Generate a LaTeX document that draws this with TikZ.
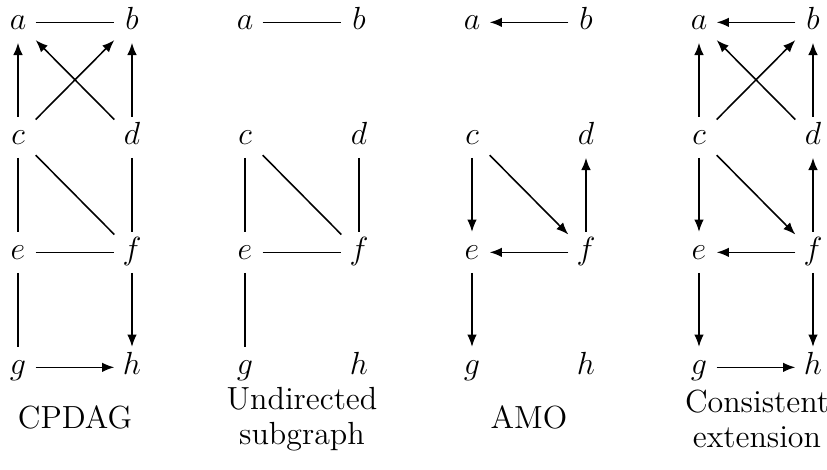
\documentclass[tikz,border=0pt]{standalone}
\usetikzlibrary{arrows.meta}
\begin{document}
\begin{tikzpicture}[x=0.45pt,y=-0.45pt,
  vtx/.style={anchor=base,inner xsep=0pt,inner ysep=0pt,minimum width=15.5pt,
    text height=12pt,text depth=6pt,font=\fontsize{14}{16}\selectfont},
  captxt/.style={align=center,font=\fontsize{14.4}{16}\selectfont},
  und/.style={line width=0.7pt},
  dir/.style={line width=0.7pt,-{Latex[length=5.5pt,width=4.3pt]}}]
\useasboundingbox (0,0) rectangle (827,470);
\foreach \g/\x in {1/18,2/245,3/472,4/699}{
  \node[vtx] (g\g a) at (\x,29) {$a$};
  \node[vtx] (g\g b) at (\x+114,29) {$b$};
  \node[vtx] (g\g c) at (\x,144) {$c$};
  \node[vtx] (g\g d) at (\x+114,144) {$d$};
  \node[vtx] (g\g e) at (\x,259) {$e$};
  \node[vtx] (g\g f) at (\x+114,259) {$f$};
  \node[vtx] (g\g g) at (\x,374) {$g$};
  \node[vtx] (g\g h) at (\x+114,374) {$h$};
}
% CPDAG
\draw[und] (g1a) -- (g1b);
\draw[dir] (g1c) -- (g1a);
\draw[dir] (g1d) -- (g1b);
\draw[dir] (g1c) -- (g1b);
\draw[dir] (g1d) -- (g1a);
\draw[und] (g1c) -- (g1e);
\draw[und] (g1c) -- (g1f);
\draw[und] (g1d) -- (g1f);
\draw[und] (g1e) -- (g1f);
\draw[und] (g1e) -- (g1g);
\draw[dir] (g1f) -- (g1h);
\draw[dir] (g1g) -- (g1h);
% Undirected subgraph
\draw[und] (g2a) -- (g2b);
\draw[und] (g2c) -- (g2e);
\draw[und] (g2c) -- (g2f);
\draw[und] (g2d) -- (g2f);
\draw[und] (g2e) -- (g2f);
\draw[und] (g2e) -- (g2g);
% AMO
\draw[dir] (g3b) -- (g3a);
\draw[dir] (g3c) -- (g3e);
\draw[dir] (g3c) -- (g3f);
\draw[dir] (g3f) -- (g3d);
\draw[dir] (g3f) -- (g3e);
\draw[dir] (g3e) -- (g3g);
% Consistent extension
\draw[dir] (g4b) -- (g4a);
\draw[dir] (g4c) -- (g4a);
\draw[dir] (g4d) -- (g4b);
\draw[dir] (g4c) -- (g4b);
\draw[dir] (g4d) -- (g4a);
\draw[dir] (g4c) -- (g4e);
\draw[dir] (g4c) -- (g4f);
\draw[dir] (g4f) -- (g4d);
\draw[dir] (g4f) -- (g4e);
\draw[dir] (g4e) -- (g4g);
\draw[dir] (g4f) -- (g4h);
\draw[dir] (g4g) -- (g4h);
% captions
\node[captxt] (c1) at (75,417) {CPDAG};
\node[captxt] (c2) at (302,419) {Undirected\\subgraph};
\node[captxt] (c3) at (529,417) {AMO};
\node[captxt] (c4) at (757,419) {Consistent\\extension};
\end{tikzpicture}
\end{document}
